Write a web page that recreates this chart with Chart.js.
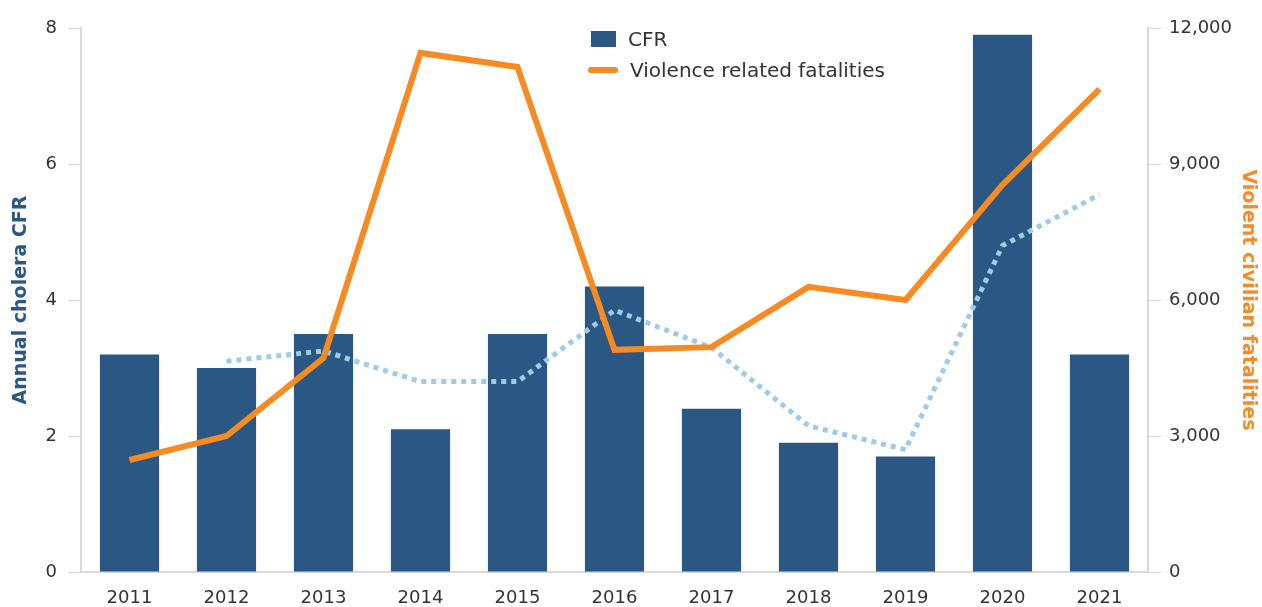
<!DOCTYPE html>
<html>
<head>
<meta charset="utf-8">
<script src="https://cdn.jsdelivr.net/npm/chart.js@4"></script>
<style>
  html, body { margin: 0; padding: 0; background: #fff; }
  #wrap { position: relative; width: 1262px; height: 607px; }
  #legend { position: absolute; left: 586px; top: 23px; font-family: "DejaVu Sans", sans-serif; font-size: 20px; color: #333; }
  #legend div { display: flex; align-items: center; height: 31px; }
  .box { width: 25px; height: 16px; background: #2a5784; margin: 0 12px 0 5px; }
  .ln { width: 30px; height: 6px; border-radius: 3px; background: #f58b22; margin: 0 12px 0 2px; }
</style>
</head>
<body>
<div id="wrap">
  <canvas id="graph" width="1262" height="607"></canvas>
  <div id="legend">
    <div><span class="box"></span>CFR</div>
    <div><span class="ln"></span>Violence related fatalities</div>
  </div>
</div>
<script>
var years = ["2011", "2012", "2013", "2014", "2015", "2016", "2017", "2018", "2019", "2020", "2021"];
var cfr = [3.2, 3.0, 3.5, 2.1, 3.5, 4.2, 2.4, 1.9, 1.7, 7.9, 3.2];
var cfrTrend = [null, 3.1, 3.25, 2.8, 2.8, 3.85, 3.3, 2.15, 1.8, 4.8, 5.55];
var fatalities = [2470, 3000, 4720, 11450, 11140, 4900, 4960, 6290, 6000, 8540, 10650];

var tickFont = { family: "DejaVu Sans", size: 18 };
var titleFont = { family: "DejaVu Sans", size: 19, weight: "bold" };
var axisGray = "#d9d9d9";

var config = {
  type: "bar",
  data: {
    labels: years,
    datasets: [{
      type: "line",
      label: "Violence related fatalities",
      data: fatalities,
      yAxisID: "y2",
      borderColor: "#f58b22",
      borderWidth: 6,
      pointRadius: 0,
      tension: 0,
      order: 1
    }, {
      type: "line",
      label: "CFR trend",
      data: cfrTrend,
      yAxisID: "y",
      borderColor: "#9fcbe8",
      borderWidth: 5,
      borderDash: [5, 5],
      pointRadius: 0,
      tension: 0,
      order: 2
    }, {
      label: "CFR",
      data: cfr,
      yAxisID: "y",
      backgroundColor: "#2a5784",
      barPercentage: 0.61,
      categoryPercentage: 1,
      order: 3
    }]
  },
  options: {
    responsive: false,
    animation: false,
    layout: { padding: { top: 28, left: 0, right: 0, bottom: 0 } },
    plugins: {
      legend: { display: false },
      tooltip: { enabled: false }
    },
    scales: {
      x: {
        grid: { display: false, drawTicks: false },
        border: { display: true, color: axisGray, width: 2 },
        ticks: { font: tickFont, color: "#333", padding: 16 },
        afterFit: function (scale) { scale.height = 35; }
      },
      y: {
        position: "left",
        min: 0,
        max: 8,
        ticks: { stepSize: 2, font: tickFont, color: "#333", padding: 11 },
        grid: { drawOnChartArea: false, tickLength: 13, color: axisGray },
        border: { color: axisGray, width: 2 },
        title: {
          display: true,
          text: "Annual cholera CFR",
          color: "#2a5784",
          font: titleFont,
          padding: { top: 10, bottom: 0 }
        },
        afterFit: function (scale) { scale.width = 81; }
      },
      y2: {
        position: "right",
        min: 0,
        max: 12000,
        ticks: {
          stepSize: 3000,
          font: tickFont,
          color: "#333",
          padding: 8,
          callback: function (v) { return v.toLocaleString("en-US"); }
        },
        grid: { drawOnChartArea: false, tickLength: 13, color: axisGray },
        border: { color: axisGray, width: 2 },
        title: {
          display: true,
          text: "Violent civilian fatalities",
          color: "#f58b22",
          font: titleFont,
          padding: { top: 3, bottom: 0 }
        },
        afterFit: function (scale) { scale.width = 114; }
      }
    }
  }
};

new Chart(document.getElementById("graph"), config);
</script>
</body>
</html>
